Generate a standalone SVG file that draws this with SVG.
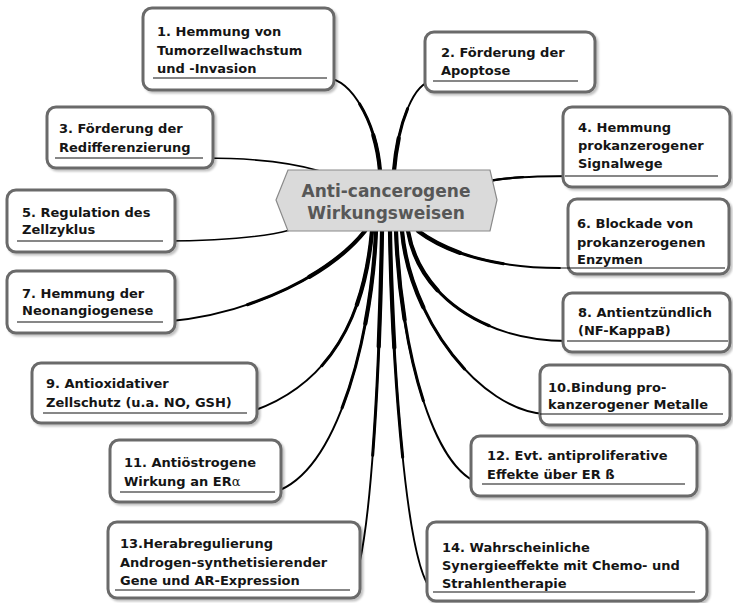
<svg xmlns="http://www.w3.org/2000/svg" xmlns:xlink="http://www.w3.org/1999/xlink" width="733" height="603" viewBox="0 0 733 603">
<style>
.box{fill:#fff;stroke:#6a6a6a;stroke-width:3;filter:url(#sh)}
.t{font-family:"DejaVu Sans","Liberation Sans",sans-serif;font-weight:bold;font-size:13px;fill:#151515}
.hub{fill:#dadada;stroke:#8a8a8a;stroke-width:1.2}
.ht{font-family:"DejaVu Sans","Liberation Sans",sans-serif;font-weight:bold;font-size:17px;fill:#575757;text-anchor:middle}
.ul{stroke:#111;stroke-width:1.1;fill:none}
.c1{fill:none;stroke:#000;stroke-width:1.9;stroke-linecap:round}
.c2{fill:none;stroke:#000;stroke-width:3;stroke-dasharray:62 100;stroke-linecap:round}
.c3{fill:none;stroke:#000;stroke-width:4.2;stroke-dasharray:32 100;stroke-linecap:round}
.a{font-family:"DejaVu Serif","Liberation Serif",serif;font-weight:normal}
</style>
<defs>
<filter id="sh" x="-5%" y="-10%" width="112%" height="125%">
<feGaussianBlur in="SourceAlpha" stdDeviation="1.2"/>
<feOffset dx="1.5" dy="2" result="b"/>
<feComponentTransfer><feFuncA type="linear" slope="0.25"/></feComponentTransfer>
<feMerge><feMergeNode/><feMergeNode in="SourceGraphic"/></feMerge>
</filter>
<path id="p1" pathLength="100" d="M380,171 C376,122 352,80 327,78"/>
<path id="p2" pathLength="100" d="M394,171 C398,122 414,82 433,81"/>
<path id="p3" pathLength="100" d="M320,171 C290,162 250,158 203,158"/>
<path id="p4" pathLength="100" d="M489,181 C510,177 540,176 575,176"/>
<path id="p5" pathLength="100" d="M290,230 C260,238 210,241 163,241"/>
<path id="p6" pathLength="100" d="M418,231 C450,255 500,268 560,268"/>
<path id="p7" pathLength="100" d="M365,231 C330,275 250,315 163,322"/>
<path id="p8" pathLength="100" d="M408,231 C420,300 490,341 567,341"/>
<path id="p9" pathLength="100" d="M372,231 C365,310 335,385 247,413"/>
<path id="p10" pathLength="100" d="M402,231 C410,320 480,410 545,414"/>
<path id="p11" pathLength="100" d="M376,231 C372,330 340,470 275,492"/>
<path id="p12" pathLength="100" d="M396,231 C400,340 430,470 482,484"/>
<path id="p13" pathLength="100" d="M382,231 C380,350 372,560 350,590"/>
<path id="p14" pathLength="100" d="M390,231 C392,350 405,570 433,591"/>
</defs>

<g id="connectors">
<use xlink:href="#p1" class="c1"/><use xlink:href="#p1" class="c2"/><use xlink:href="#p1" class="c3"/>
<use xlink:href="#p2" class="c1"/><use xlink:href="#p2" class="c2"/><use xlink:href="#p2" class="c3"/>
<use xlink:href="#p3" class="c1" style="stroke-width:1.6"/>
<use xlink:href="#p4" class="c1"/><use xlink:href="#p4" class="c2" style="stroke-width:2.3;stroke-dasharray:40 100"/>
<use xlink:href="#p5" class="c1" style="stroke-width:1.6"/>
<use xlink:href="#p6" class="c1"/><use xlink:href="#p6" class="c2"/><use xlink:href="#p6" class="c3"/>
<use xlink:href="#p7" class="c1"/><use xlink:href="#p7" class="c2"/><use xlink:href="#p7" class="c3"/>
<use xlink:href="#p8" class="c1"/><use xlink:href="#p8" class="c2"/><use xlink:href="#p8" class="c3"/>
<use xlink:href="#p9" class="c1"/><use xlink:href="#p9" class="c2"/><use xlink:href="#p9" class="c3"/>
<use xlink:href="#p10" class="c1"/><use xlink:href="#p10" class="c2"/><use xlink:href="#p10" class="c3"/>
<use xlink:href="#p11" class="c1"/><use xlink:href="#p11" class="c2"/><use xlink:href="#p11" class="c3"/>
<use xlink:href="#p12" class="c1"/><use xlink:href="#p12" class="c2"/><use xlink:href="#p12" class="c3"/>
<use xlink:href="#p13" class="c1"/><use xlink:href="#p13" class="c2"/><use xlink:href="#p13" class="c3"/>
<use xlink:href="#p14" class="c1"/><use xlink:href="#p14" class="c2"/><use xlink:href="#p14" class="c3"/>
</g>

<g id="hub">
<polygon class="hub" points="288,170 490,170 497,200 490,231 288,231 276,200"/>
<text class="ht" x="386" y="197">Anti-cancerogene</text>
<text class="ht" x="386" y="219">Wirkungsweisen</text>
</g>

<g id="n1">
<rect class="box" x="143" y="8" width="191" height="82" rx="9"/>
<text class="t" x="157" y="36">1. Hemmung von</text>
<text class="t" x="157" y="55">Tumorzellwachstum</text>
<text class="t" x="157" y="73">und -Invasion</text>
<line class="ul" x1="153" y1="78" x2="327" y2="78"/>
</g>
<g id="n2">
<rect class="box" x="425" y="32" width="170" height="60" rx="9"/>
<text class="t" x="441" y="57">2. Förderung der</text>
<text class="t" x="441" y="75">Apoptose</text>
<line class="ul" x1="433" y1="81" x2="578" y2="81"/>
</g>
<g id="n3">
<rect class="box" x="47" y="107" width="166" height="61" rx="9"/>
<text class="t" x="59" y="133">3. Förderung der</text>
<text class="t" x="59" y="152">Redifferenzierung</text>
<line class="ul" x1="55" y1="158" x2="203" y2="158"/>
</g>
<g id="n4">
<rect class="box" x="563" y="107" width="167" height="80" rx="9"/>
<text class="t" x="578" y="132">4. Hemmung</text>
<text class="t" x="578" y="150">prokanzerogener</text>
<text class="t" x="578" y="168">Signalwege</text>
<line class="ul" x1="565" y1="176" x2="718" y2="176"/>
</g>
<g id="n5">
<rect class="box" x="7" y="190" width="168" height="62" rx="9"/>
<text class="t" x="22" y="217">5. Regulation des</text>
<text class="t" x="22" y="234">Zellzyklus</text>
<line class="ul" x1="17" y1="241" x2="163" y2="241"/>
</g>
<g id="n6">
<rect class="box" x="568" y="199" width="161" height="75" rx="9"/>
<text class="t" x="577" y="228">6. Blockade von</text>
<text class="t" x="577" y="247">prokanzerogenen</text>
<text class="t" x="577" y="264">Enzymen</text>
<line class="ul" x1="560" y1="268" x2="725" y2="268"/>
</g>
<g id="n7">
<rect class="box" x="7" y="271" width="168" height="62" rx="9"/>
<text class="t" x="22" y="298">7. Hemmung der</text>
<text class="t" x="22" y="315">Neonangiogenese</text>
<line class="ul" x1="17" y1="322" x2="163" y2="322"/>
</g>
<g id="n8">
<rect class="box" x="563" y="293" width="167" height="59" rx="9"/>
<text class="t" x="578" y="317">8. Antientzündlich</text>
<text class="t" x="578" y="335">(NF-KappaB)</text>
<line class="ul" x1="567" y1="341" x2="728" y2="341"/>
</g>
<g id="n9">
<rect class="box" x="32" y="363" width="225" height="60" rx="9"/>
<text class="t" x="46" y="388">9. Antioxidativer</text>
<text class="t" x="46" y="407">Zellschutz (u.a. NO, GSH)</text>
<line class="ul" x1="43" y1="413" x2="247" y2="413"/>
</g>
<g id="n10">
<rect class="box" x="540" y="365" width="190" height="60" rx="9"/>
<text class="t" x="548" y="392">10.Bindung pro-</text>
<text class="t" x="548" y="409">kanzerogener Metalle</text>
<line class="ul" x1="540" y1="414" x2="723" y2="414"/>
</g>
<g id="n11">
<rect class="box" x="110" y="440" width="171" height="62" rx="9"/>
<text class="t" x="124" y="467">11. Antiöstrogene</text>
<text class="t" x="124" y="486">Wirkung an ER<tspan class="a">α</tspan></text>
<line class="ul" x1="120" y1="492" x2="275" y2="492"/>
</g>
<g id="n12">
<rect class="box" x="471" y="436" width="226" height="60" rx="9"/>
<text class="t" x="487" y="460">12. Evt. antiproliferative</text>
<text class="t" x="487" y="479">Effekte über ER ß</text>
<line class="ul" x1="482" y1="484" x2="685" y2="484"/>
</g>
<g id="n13">
<rect class="box" x="108" y="522" width="252" height="76" rx="9"/>
<text class="t" x="120" y="548">13.Herabregulierung</text>
<text class="t" x="120" y="567">Androgen-synthetisierender</text>
<text class="t" x="120" y="585">Gene und AR-Expression</text>
<line class="ul" x1="115" y1="590" x2="350" y2="590"/>
</g>
<g id="n14">
<rect class="box" x="427" y="522" width="280" height="79" rx="9"/>
<text class="t" x="442" y="552">14. Wahrscheinliche</text>
<text class="t" x="442" y="570">Synergieeffekte mit Chemo- und</text>
<text class="t" x="442" y="588">Strahlentherapie</text>
<line class="ul" x1="433" y1="592" x2="695" y2="592"/>
</g>
</svg>
